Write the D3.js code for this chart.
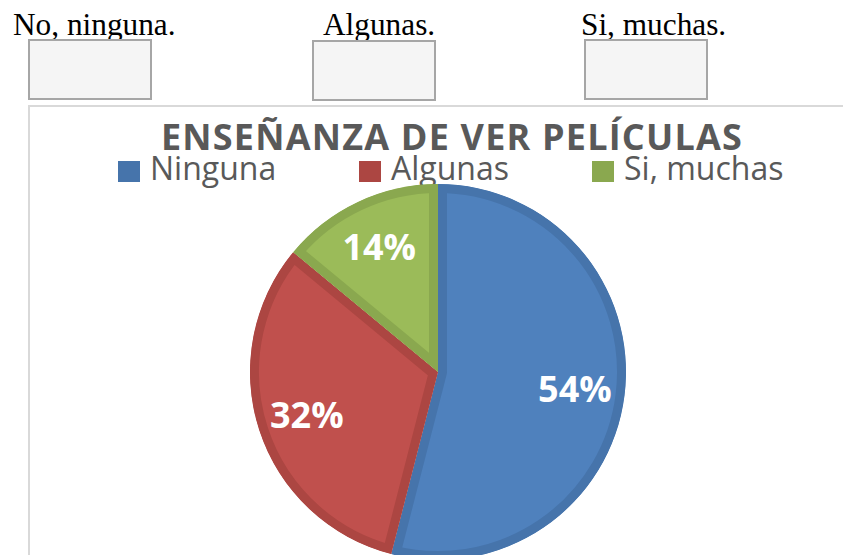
<!DOCTYPE html>
<html>
<head>
    <meta charset="utf-8">
    <title>Enseñanza de ver películas</title>
    <script src="https://cdn.jsdelivr.net/npm/d3@7"></script>
    <style>
        body{
            margin: 0;
            background: #ffffff;
        }
        svg{
            display: block;
        }
    </style>
</head>
<body>
<svg width="843" height="555"></svg>
<script>
    // datos
    var opciones = ["No, ninguna.", "Algunas.", "Si, muchas."];
    var categorias = ["Ninguna", "Algunas", "Si, muchas"];
    var valores = [54, 32, 14];
    var titulo = "ENSEÑANZA DE VER PELÍCULAS";

    var relleno = ["#4f81bd", "#c0504d", "#9bbb59"];
    var borde = ["#4674ab", "#ac4642", "#8aa84f"];

    var svg = d3.select("svg");

    // opciones de la encuesta (texto + casilla)
    var opcX = [13, 323, 581];
    var cajaX = [29, 313, 585];
    svg.selectAll("text.opc")
        .data(opciones)
        .enter()
        .append("text")
        .attr("class", "opc")
        .attr("x", function(d, i) { return opcX[i]; })
        .attr("y", 35)
        .style("font-family", "'Liberation Serif', 'Times New Roman', serif")
        .style("font-size", "31.3px")
        .attr("fill", "#000")
        .text(function(d) { return d; });

    svg.selectAll("rect.caja")
        .data(opciones)
        .enter()
        .append("rect")
        .attr("class", "caja")
        .attr("x", function(d, i) { return cajaX[i]; })
        .attr("y", function(d, i) { return i == 1 ? 41 : 40; })
        .attr("width", 122)
        .attr("height", 59)
        .attr("fill", "#f5f5f5")
        .attr("stroke", "#a6a6a6")
        .attr("stroke-width", 2);

    // marco del grafico
    svg.append("rect")
        .attr("x", 29)
        .attr("y", 106)
        .attr("width", 900)
        .attr("height", 600)
        .attr("fill", "#fff")
        .attr("stroke", "#d9d9d9")
        .attr("stroke-width", 2);

    // titulo
    svg.append("text")
        .attr("x", 452)
        .attr("y", 150)
        .attr("text-anchor", "middle")
        .style("font-family", "'Open Sans', sans-serif")
        .style("font-weight", "bold")
        .style("font-size", "36px")
        .style("letter-spacing", "1.2px")
        .attr("fill", "#595959")
        .text(titulo);

    // leyenda
    var legX = [118, 359, 592];
    var ley = svg.selectAll("g.ley")
        .data(categorias)
        .enter()
        .append("g")
        .attr("class", "ley")
        .attr("transform", function(d, i) { return "translate(" + legX[i] + ",161)"; });
    ley.append("rect")
        .attr("width", 22)
        .attr("height", 21)
        .attr("fill", function(d, i) { return borde[i]; });
    ley.append("text")
        .attr("x", 32)
        .attr("y", 19)
        .style("font-family", "'Open Sans', sans-serif")
        .style("font-size", "32px")
        .attr("fill", "#595959")
        .text(function(d) { return d; });

    // pastel
    var cx = 438, cy = 372, radio = 188;
    var pie = d3.pie().sort(null).value(function(d) { return d; });
    var arcos = pie(valores);
    var arc = d3.arc().innerRadius(0).outerRadius(radio);
    var arcEtq = d3.arc().innerRadius(138).outerRadius(138);

    var g = svg.append("g").attr("transform", "translate(" + cx + "," + cy + ")");
    var defs = svg.append("defs");
    defs.selectAll("clipPath")
        .data(arcos)
        .enter()
        .append("clipPath")
        .attr("id", function(d, i) { return "rebanada" + i; })
        .append("path")
        .attr("d", arc);

    g.selectAll("path.reb")
        .data(arcos)
        .enter()
        .append("path")
        .attr("class", "reb")
        .attr("d", arc)
        .attr("fill", function(d, i) { return relleno[i]; })
        .attr("stroke", function(d, i) { return borde[i]; })
        .attr("stroke-width", 18)
        .attr("stroke-linejoin", "round")
        .attr("clip-path", function(d, i) { return "url(#rebanada" + i + ")"; });

    g.selectAll("text.etq")
        .data(arcos)
        .enter()
        .append("text")
        .attr("class", "etq")
        .attr("transform", function(d) { return "translate(" + arcEtq.centroid(d) + ")"; })
        .attr("text-anchor", "middle")
        .attr("dy", "0.36em")
        .style("font-family", "'Open Sans', sans-serif")
        .style("font-weight", "bold")
        .style("font-size", "36px")
        .attr("fill", "#ffffff")
        .text(function(d) { return d.data + "%"; });
</script>
</body>
</html>
